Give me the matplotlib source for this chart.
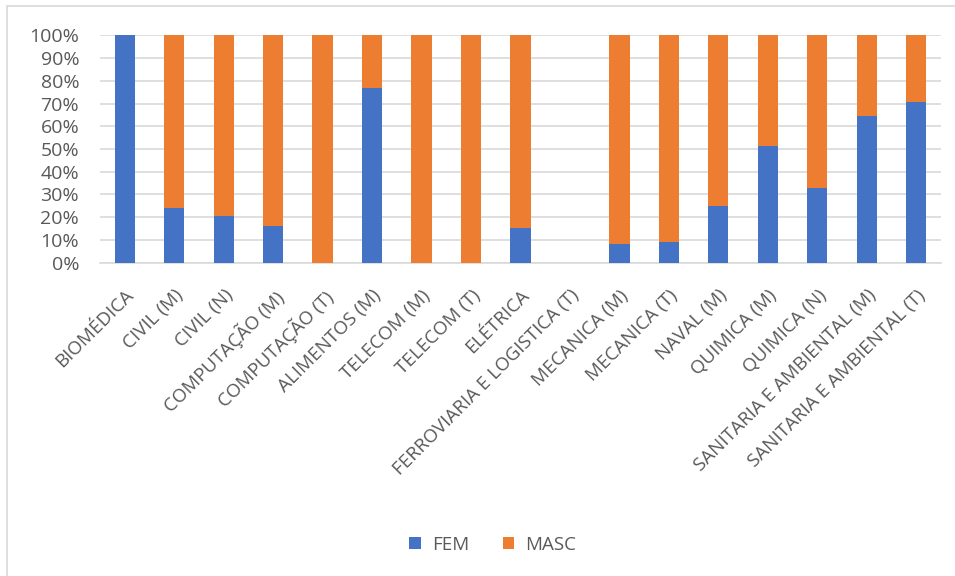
import numpy as np
import matplotlib.pyplot as plt
from matplotlib.patches import Rectangle
from matplotlib.ticker import PercentFormatter

cursos = ['BIOMÉDICA', 'CIVIL (M)', 'CIVIL (N)', 'COMPUTAÇÃO (M)', 'COMPUTAÇÃO (T)',
          'ALIMENTOS (M)', 'TELECOM (M)', 'TELECOM (T)', 'ELÉTRICA',
          'FERROVIARIA E LOGISTICA (T)', 'MECANICA (M)', 'MECANICA (T)', 'NAVAL (M)',
          'QUIMICA (M)', 'QUIMICA (N)', 'SANITARIA E AMBIENTAL (M)', 'SANITARIA E AMBIENTAL (T)']
fem = [1.0, 0.24, 0.205, 0.16, 0.0, 0.767, 0.0, 0.0, 0.151, 0.0,
       0.081, 0.09, 0.249, 0.513, 0.327, 0.645, 0.707]
masc = [0.0, 0.76, 0.795, 0.84, 1.0, 0.233, 1.0, 1.0, 0.849, 0.0,
        0.919, 0.91, 0.751, 0.487, 0.673, 0.355, 0.293]

azul = '#4472c4'
laranja = '#ed7d31'
cinza = '#595959'

plt.rcParams['font.family'] = ['Open Sans', 'DejaVu Sans']

fig = plt.figure(figsize=(9.55, 5.76), dpi=100)
ax = fig.add_axes([0.1047, 0.5439, 0.8806, 0.3948])

# moldura do gráfico
fig.patches.append(Rectangle((7 / 955, -0.1), 1.2, 1 - 6 / 576 + 0.1,
                             transform=fig.transFigure, fill=False,
                             edgecolor='#d9d9d9', linewidth=1.2))

x = np.arange(len(cursos))
ax.bar(x, fem, width=0.41, color=azul, label='FEM', zorder=3)
ax.bar(x, masc, width=0.41, bottom=fem, color=laranja, label='MASC', zorder=3)

ax.set_xlim(-0.5, len(cursos) - 0.5)
ax.set_ylim(0, 1)
ax.set_yticks(np.arange(0, 1.01, 0.1))
ax.yaxis.set_major_formatter(PercentFormatter(1.0, decimals=0))
ax.grid(axis='y', color='#d9d9d9', linewidth=1.2, zorder=0)

for s in ['top', 'right', 'left']:
    ax.spines[s].set_visible(False)
ax.spines['bottom'].set_color('#d9d9d9')
ax.spines['bottom'].set_linewidth(1.2)

ax.set_xticks(x)
ax.set_xticklabels(cursos, rotation=45, ha='right', rotation_mode='anchor')
ax.tick_params(axis='both', length=0, colors=cinza)
ax.tick_params(axis='y', pad=15, labelsize=14)
ax.tick_params(axis='x', pad=17, labelsize=13.5)

leg = fig.legend(loc='center', bbox_to_anchor=(0.516, 1 - 545 / 576), ncol=2,
                 frameon=False, fontsize=13.5, handlelength=0.6, handleheight=0.6,
                 columnspacing=1.8, handletextpad=0.6)
for t in leg.get_texts():
    t.set_color(cinza)

fig.savefig('out.png', dpi=100, facecolor='white')
